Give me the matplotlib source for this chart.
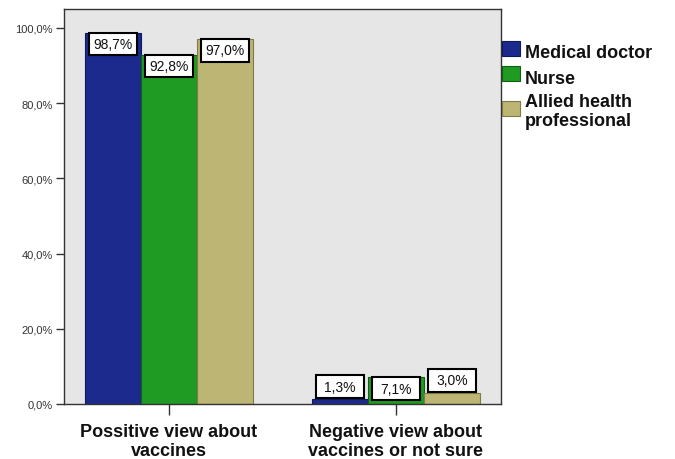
import matplotlib
matplotlib.use("Agg")
import matplotlib.pyplot as plt
from matplotlib.patches import Rectangle
import numpy as np

plt.rcParams['font.family'] = ['Liberation Sans', 'DejaVu Sans']

categories = ["Possitive view about\nvaccines", "Negative view about\nvaccines or not sure"]
series_names = ["Medical doctor", "Nurse", "Allied health\nprofessional"]
medical_doctor = [98.7, 1.3]
nurse = [92.8, 7.1]
allied = [97.0, 3.0]
values = [medical_doctor, nurse, allied]
colors = ["#1b2a8c", "#1f9a23", "#bcb574"]
edges = ["#101a5a", "#136015", "#7f7a48"]

fig = plt.figure(figsize=(6.75, 4.6), dpi=100)
ax = fig.add_axes([64/675, 1-405/460, (501-64)/675, (405-10)/460])
ax.set_facecolor("#e6e6e6")

centers = np.array([0.0, 4.05])
width = 1.0
box_w = 0.86
box_h = 6.0
for i, (vals, c, ec) in enumerate(zip(values, colors, edges)):
    xs = centers + (i - 1) * width
    ax.bar(xs, vals, width=width, color=c, edgecolor=ec, linewidth=0.8, zorder=2)
    for x, v in zip(xs, vals):
        top = v if v >= 6 else v + 6.3
        ax.add_patch(Rectangle((x - box_w/2, top - box_h), box_w, box_h,
                               facecolor="white", edgecolor="black", linewidth=1.5, zorder=3))
        ax.text(x, top - box_h/2, f"{v:.1f}%".replace(".", ","), ha="center", va="center",
                fontsize=10, color="#111111", zorder=4)

ax.set_xlim((64-169)/56, (501-169)/56)
ax.set_ylim(0, 105)
ax.set_yticks([0, 20, 40, 60, 80, 100])
ax.set_yticklabels(["0,0%", "20,0%", "40,0%", "60,0%", "80,0%", "100,0%"], fontsize=8, color="#333333")
ax.set_xticks(centers)
ax.set_xticklabels(categories, fontsize=13, fontweight="bold", linespacing=1.1, color="#111111")
ax.tick_params(axis="y", length=6, width=1, color="#333333", pad=2)
ax.tick_params(axis="x", length=8, width=1, color="#333333", pad=6)
for s in ax.spines.values():
    s.set_color("#333333")
    s.set_linewidth(1.0)

# legend
square_top = [42, 67, 102]
for name, c, ec, sy in zip(series_names, colors, edges, square_top):
    fig.patches.append(Rectangle((502/675, 1-(sy+15)/460), 18/675, 15/460,
                                 transform=fig.transFigure, facecolor=c, edgecolor=ec, linewidth=0.8))
fig.text(525/675, 1-53/460, series_names[0], fontsize=13, fontweight="bold", va="center", color="#111111")
fig.text(525/675, 1-79/460, series_names[1], fontsize=13, fontweight="bold", va="center", color="#111111")
fig.text(525/675, 1-112/460, series_names[2], fontsize=13, fontweight="bold", va="center",
         linespacing=1.1, color="#111111")

fig.savefig("out.png", dpi=100)
